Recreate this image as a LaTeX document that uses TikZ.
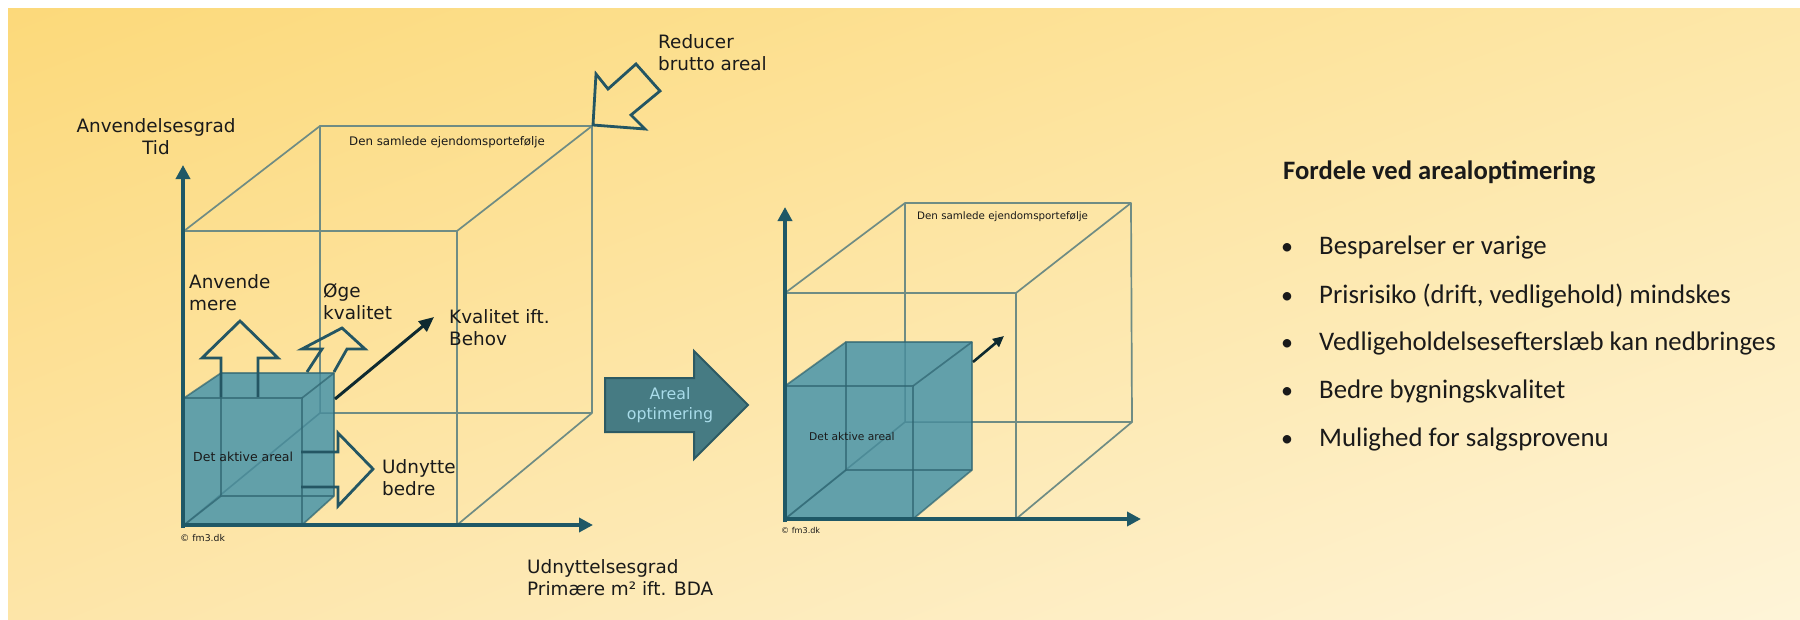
\documentclass[tikz,border=0pt]{standalone}
\usepackage{fontspec}
\newfontfamily\dvfont{DejaVu Sans}
\newfontfamily\calfont{Carlito}
\usetikzlibrary{arrows.meta,shadings}
\definecolor{bgA}{HTML}{FCD97A}
\definecolor{bgB}{HTML}{FDE7A8}
\definecolor{bgC}{HTML}{FDE5A8}
\definecolor{bgD}{HTML}{FEF4D8}
\definecolor{cubec}{HTML}{6F8C84}
\definecolor{activec}{HTML}{5A9DAA}
\definecolor{activeedge}{HTML}{2E6470}
\definecolor{arrowc}{HTML}{245663}
\definecolor{axisc}{HTML}{1F5866}
\definecolor{qualc}{HTML}{0E2A30}
\definecolor{txtc}{HTML}{1A1A1A}
\definecolor{bigarrowfill}{HTML}{467B83}
\definecolor{bigarrowdraw}{HTML}{2C5A63}
\definecolor{bigarrowtext}{HTML}{A9DCEA}
\begin{document}
\begin{tikzpicture}[x=1pt,y=-1pt,
  cubeline/.style={draw=cubec, line width=1.7pt, line join=round},
  activefill/.style={fill=activec, fill opacity=0.95, draw=none},
  activeline/.style={draw=activeedge, line width=1.7pt, draw opacity=0.7, line join=round},
  hiddenline/.style={draw=activeedge, line width=1.5pt, draw opacity=0.3},
  hollowarrow/.style={draw=arrowc, line width=2.8pt, line join=miter},
  axisline/.style={draw=axisc, line width=4.5pt, -{Triangle[length=14pt,width=14pt]}},
  qualarrow/.style={draw=qualc, line width=3pt, -{Triangle[length=15pt,width=13pt]}},
  lbl/.style={font=\dvfont\fontsize{18.4}{22}\selectfont, text=txtc, inner sep=0pt, align=left, anchor=north west},
  tinylbl/.style={font=\dvfont\fontsize{#1}{#1}\selectfont, text=txtc, inner sep=0pt, anchor=base west},
  bullet/.style={font=\calfont\fontsize{24}{30}\selectfont, text=txtc, inner sep=0pt, anchor=base},
  bullettext/.style={font=\calfont\fontsize{26.8}{30}\selectfont, text=txtc, inner sep=0pt, anchor=base west}]
\useasboundingbox (0,0) rectangle (1800,619);
% background
\shade[upper left=bgA, upper right=bgB, lower left=bgC, lower right=bgD] (8,8) rectangle (1800,619);

% ---------- left diagram: total portfolio ----------
\coordinate (f1) at (184,231); \coordinate (f2) at (457,231);
\coordinate (f3) at (457,525); \coordinate (f4) at (184,525);
\coordinate (b1) at (320,126); \coordinate (b2) at (592,126);
\coordinate (b3) at (592,413); \coordinate (b4) at (320,413);
\draw[cubeline] (f1) -- (f2) -- (f3) -- (f4) -- cycle;
\draw[cubeline] (b1) -- (b2) -- (b3) -- (b4) -- cycle;
\draw[cubeline] (f1) -- (b1) (f2) -- (b2) (f3) -- (b3) (f4) -- (b4);
\node[tinylbl=11.8] (portA) at (349,145) {Den samlede ejendomsportefølje};

% active area cube
\coordinate (af1) at (184,398); \coordinate (af2) at (302,398);
\coordinate (af3) at (302,525); \coordinate (af4) at (184,525);
\coordinate (ab1) at (221,373); \coordinate (ab2) at (334,373);
\coordinate (ab3) at (334,496); \coordinate (ab4) at (221,496);
\fill[activefill] (af4) -- (af1) -- (ab1) -- (ab2) -- (ab3) -- (af3) -- cycle;
\draw[activeline] (af1) -- (af2) -- (af3) -- (af4) -- cycle;
\draw[activeline] (ab1) -- (ab2) -- (ab3) -- (ab4) -- cycle;
\draw[activeline] (af1) -- (ab1) (af2) -- (ab2) (af3) -- (ab3) (af4) -- (ab4);
% edges of the large cube seen through the active cube
\draw[hiddenline] (320,373) -- (b4) -- (f4) (b4) -- (334,413);
\node[tinylbl=12.5] (activeA) at (193,461) {Det aktive areal};

% axes
\coordinate (oA) at (183,528);
\coordinate (yA) at (183,165);
\coordinate (xo) at (181,525);
\coordinate (xA) at (593,525);
\draw[axisline] (oA) -- (yA);
\draw[axisline] (xo) -- (xA);

% hollow arrows
\draw[hollowarrow] (221,397) -- (221,358) -- (202,358) -- (240,321) -- (278,358) -- (258,358) -- (258,397);
\draw[hollowarrow] (307,372) -- (322,349) -- (302,349) -- (342,328) -- (365,349) -- (347,349) -- (334,372);
\draw[hollowarrow] (301,452) -- (338,452) -- (338,433) -- (373,469) -- (338,506) -- (338,487) -- (301,487);
\draw[hollowarrow] (593,125) -- (596,74) -- (608,89) -- (636,64) -- (660,91) -- (631,115) -- (645,129) -- cycle;

% quality arrow
\coordinate (qs) at (335,399);
\coordinate (qe) at (434,317);
\draw[qualarrow] (qs) -- (qe);

% labels
\node[lbl, align=center, anchor=north] (ylab) at (156,118) {Anvendelsesgrad\\Tid};
\node[lbl] (xlab) at (527,559) {Udnyttelsesgrad\\Primære m² ift. BDA};
\node[lbl] (reduce) at (658,34) {Reducer\\brutto areal};
\node[lbl] (use) at (189,274) {Anvende\\mere};
\node[lbl] (raise) at (323,283) {Øge\\kvalitet};
\node[lbl] (quality) at (449,309) {Kvalitet ift.\\Behov};
\node[lbl] (exploit) at (382,459) {Udnytte\\bedre};
\node[tinylbl=9.3] (copyA) at (180,541) {© fm3.dk};

% ---------- optimisation arrow ----------
\fill[bigarrowfill, draw=bigarrowdraw, line width=2pt, line join=miter]
  (605,378) -- (694,378) -- (694,351) -- (748,405) -- (694,459) -- (694,432) -- (605,432) -- cycle;
\node[font=\dvfont\fontsize{15.8}{20}\selectfont, text=bigarrowtext, align=center, inner sep=0pt] (optim) at (670,405) {Areal\\optimering};

% ---------- right diagram: after optimisation ----------
\coordinate (g1) at (785,293); \coordinate (g2) at (1016,293);
\coordinate (g3) at (1016,519); \coordinate (g4) at (785,519);
\coordinate (h1) at (905,203); \coordinate (h2) at (1131,203);
\coordinate (h3) at (1132,422); \coordinate (h4) at (905,422);
\draw[cubeline] (g1) -- (g2) -- (g3) -- (g4) -- cycle;
\draw[cubeline] (h1) -- (h2) -- (h3) -- (h4) -- cycle;
\draw[cubeline] (g1) -- (h1) (g2) -- (h2) (g3) -- (h3) (g4) -- (h4);
\node[tinylbl=10.3] (portB) at (917,219) {Den samlede ejendomsportefølje};

\coordinate (cf1) at (785,386); \coordinate (cf2) at (913,386);
\coordinate (cf3) at (913,519); \coordinate (cf4) at (785,519);
\coordinate (cb1) at (846,342); \coordinate (cb2) at (972,342);
\coordinate (cb3) at (972,470); \coordinate (cb4) at (846,470);
\fill[activefill] (cf4) -- (cf1) -- (cb1) -- (cb2) -- (cb3) -- (cf3) -- cycle;
\draw[activeline] (cf1) -- (cf2) -- (cf3) -- (cf4) -- cycle;
\draw[activeline] (cb1) -- (cb2) -- (cb3) -- (cb4) -- cycle;
\draw[activeline] (cf1) -- (cb1) (cf2) -- (cb2) (cf3) -- (cb3) (cf4) -- (cb4);
\draw[hiddenline] (905,342) -- (h4) -- (g4) (h4) -- (972,422);
\node[tinylbl=10.7] (activeB) at (809,440) {Det aktive areal};

\coordinate (oB) at (785,522);
\coordinate (yB) at (785,207);
\coordinate (xoB) at (783,519);
\coordinate (xB) at (1141,519);
\draw[axisline] (oB) -- (yB);
\draw[axisline] (xoB) -- (xB);

\coordinate (qsB) at (973,362);
\coordinate (qeB) at (1004,336);
\draw[qualarrow, line width=2.6pt, -{Triangle[length=11pt,width=10pt]}] (qsB) -- (qeB);
\node[tinylbl=8.1] (copyB) at (781,533) {© fm3.dk};

% ---------- benefits list ----------
\node[font=\calfont\bfseries\fontsize{26.6}{30}\selectfont, text=txtc, inner sep=0pt, anchor=base west] (head) at (1283,179) {Fordele ved arealoptimering};
\foreach \yy/\txt [count=\i] in {254/Besparelser er varige,
    303/{Prisrisiko (drift, vedligehold) mindskes},
    350/Vedligeholdelsesefterslæb kan nedbringes,
    398/Bedre bygningskvalitet,
    446/Mulighed for salgsprovenu}{
  \node[bullet] (dot\i) at (1287,\yy) {•};
  \node[bullettext] (item\i) at (1319,\yy) {\txt};
}
\end{tikzpicture}
\end{document}
